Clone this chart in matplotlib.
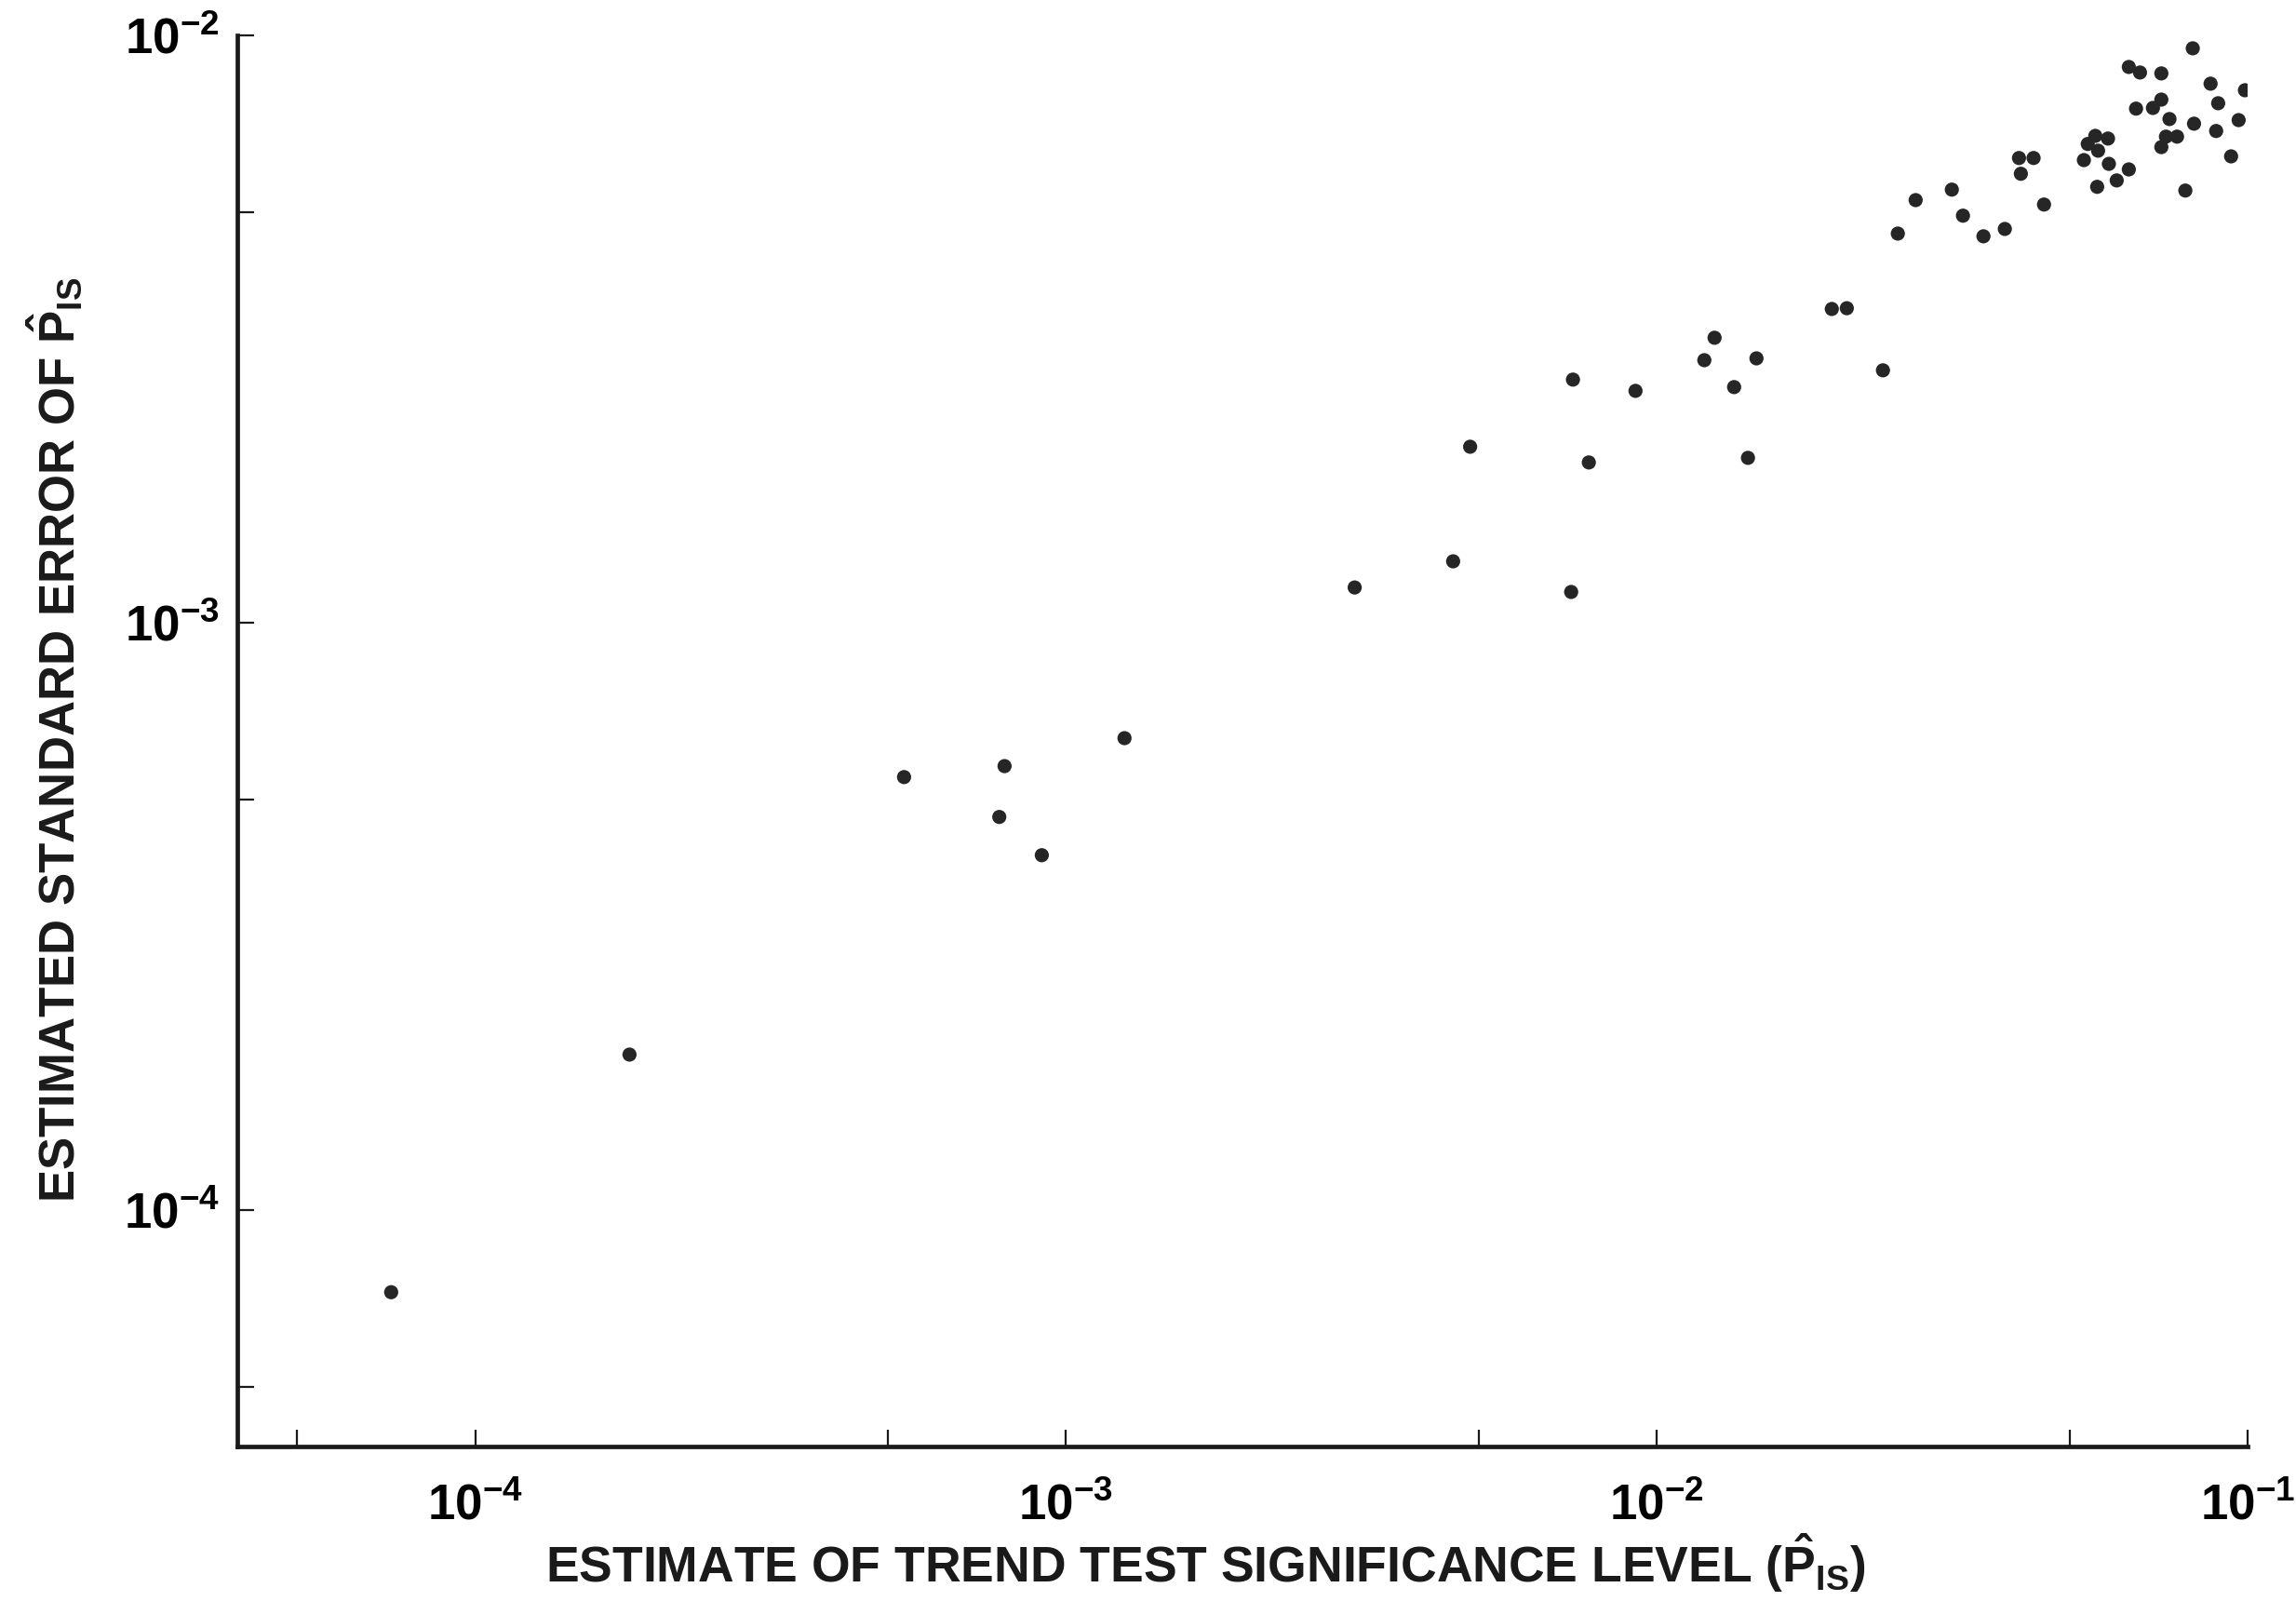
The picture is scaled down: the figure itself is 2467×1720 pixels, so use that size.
import matplotlib
matplotlib.use('Agg')
import matplotlib.pyplot as plt
from matplotlib.ticker import FixedLocator, NullFormatter

plt.rcParams['font.family'] = ['Liberation Sans', 'DejaVu Sans']
plt.rcParams['mathtext.fontset'] = 'custom'
plt.rcParams['mathtext.rm'] = 'Liberation Sans:bold'
plt.rcParams['mathtext.it'] = 'Liberation Sans:bold'
plt.rcParams['mathtext.bf'] = 'Liberation Sans:bold'

# estimate of trend test significance level (P_IS)
p_is = [7.21e-5, 1.825e-4, 5.32e-4, 7.87e-4, 7.71e-4, 9.10e-4, 1.256e-3,
        3.08e-3, 4.52e-3, 4.83e-3, 7.16e-3, 7.21e-3, 7.67e-3, 9.20e-3,
        1.203e-2, 1.252e-2, 1.351e-2, 1.474e-2, 1.426e-2, 1.977e-2, 2.096e-2,
        2.413e-2, 2.557e-2, 2.741e-2, 3.156e-2, 3.296e-2, 3.57e-2, 3.88e-2,
        4.10e-2, 4.34e-2, 4.13e-2, 4.52e-2, 5.28e-2, 5.36e-2, 5.52e-2,
        5.80e-2, 5.58e-2, 5.82e-2, 6.29e-2, 5.56e-2, 6.00e-2, 6.29e-2,
        6.57e-2, 7.14e-2, 8.07e-2, 6.47e-2, 6.91e-2, 7.14e-2, 7.37e-2,
        8.11e-2, 7.27e-2, 7.59e-2, 7.14e-2, 8.65e-2, 8.91e-2, 9.89e-2,
        9.65e-2, 8.84e-2, 9.37e-2, 7.84e-2]
# estimated standard error of P_IS
std_err = [7.25e-5, 1.84e-4, 5.46e-4, 5.70e-4, 4.67e-4, 4.02e-4, 6.36e-4,
           1.148e-3, 1.272e-3, 1.993e-3, 1.128e-3, 2.593e-3, 1.874e-3, 2.481e-3,
           2.798e-3, 3.055e-3, 2.518e-3, 2.818e-3, 1.908e-3, 3.42e-3, 3.43e-3,
           2.689e-3, 4.596e-3, 5.24e-3, 5.46e-3, 4.93e-3, 4.547e-3, 4.68e-3,
           6.18e-3, 6.18e-3, 5.81e-3, 5.15e-3, 6.13e-3, 6.53e-3, 6.74e-3,
           6.67e-3, 6.36e-3, 6.04e-3, 5.91e-3, 5.52e-3, 5.66e-3, 8.83e-3,
           8.64e-3, 8.61e-3, 9.50e-3, 7.50e-3, 7.52e-3, 7.77e-3, 7.20e-3,
           7.07e-3, 6.72e-3, 6.72e-3, 6.45e-3, 8.27e-3, 7.66e-3, 8.06e-3,
           7.17e-3, 6.87e-3, 6.22e-3, 5.44e-3]

xt = [1e-4, 1e-3, 1e-2, 1e-1]
xtl = [r'$\mathdefault{10^{-4}}$', r'$\mathdefault{10^{-3}}$',
       r'$\mathdefault{10^{-2}}$', r'$\mathdefault{10^{-1}}$']
xminor = [5e-5, 5e-4, 5e-3, 5e-2]
yt = [1e-4, 1e-3, 1e-2]
ytl = [r'$\mathdefault{10^{-4}}$', r'$\mathdefault{10^{-3}}$',
       r'$\mathdefault{10^{-2}}$']
yminor = [5e-5, 5e-4, 5e-3]

fig = plt.figure(figsize=(24.67, 17.20), dpi=100)
ax = fig.add_axes([0.1034, 0.0965, 0.8756, 0.8815])

ax.scatter(p_is, std_err, s=120, color='#262626', edgecolors='none', zorder=3)

ax.set_xscale('log')
ax.set_yscale('log')
ax.set_xlim(3.96e-5, 1e-1)
ax.set_ylim(3.96e-5, 1e-2)

ax.spines['top'].set_visible(False)
ax.spines['right'].set_visible(False)
for s in ['left', 'bottom']:
    ax.spines[s].set_linewidth(3.4)
    ax.spines[s].set_color('#1a1a1a')

ax.set_xticks(xt, labels=xtl, fontsize=38, fontweight='bold')
ax.set_yticks(yt, labels=ytl, fontsize=38, fontweight='bold')
ax.xaxis.set_minor_locator(FixedLocator(xminor))
ax.yaxis.set_minor_locator(FixedLocator(yminor))
ax.xaxis.set_minor_formatter(NullFormatter())
ax.yaxis.set_minor_formatter(NullFormatter())
ax.tick_params(which='both', direction='in', length=13, width=1.6,
               color='#1a1a1a')
ax.tick_params(axis='x', which='major', pad=28)
ax.tick_params(axis='y', which='major', pad=14)

fig.text(0.525, 0.004,
         r'ESTIMATE OF TREND TEST SIGNIFICANCE LEVEL ($\hat{\mathrm{P}}_{\mathrm{IS}}$)',
         ha='center', va='bottom', fontsize=38.5, fontweight='bold',
         color='#1a1a1a')
fig.text(0.024, 0.538,
         r'ESTIMATED STANDARD ERROR OF $\hat{\mathrm{P}}_{\mathrm{IS}}$',
         ha='center', va='center', rotation=90, fontsize=38,
         fontweight='bold', color='#1a1a1a')

fig.savefig('out.png', dpi=100, facecolor='white')
